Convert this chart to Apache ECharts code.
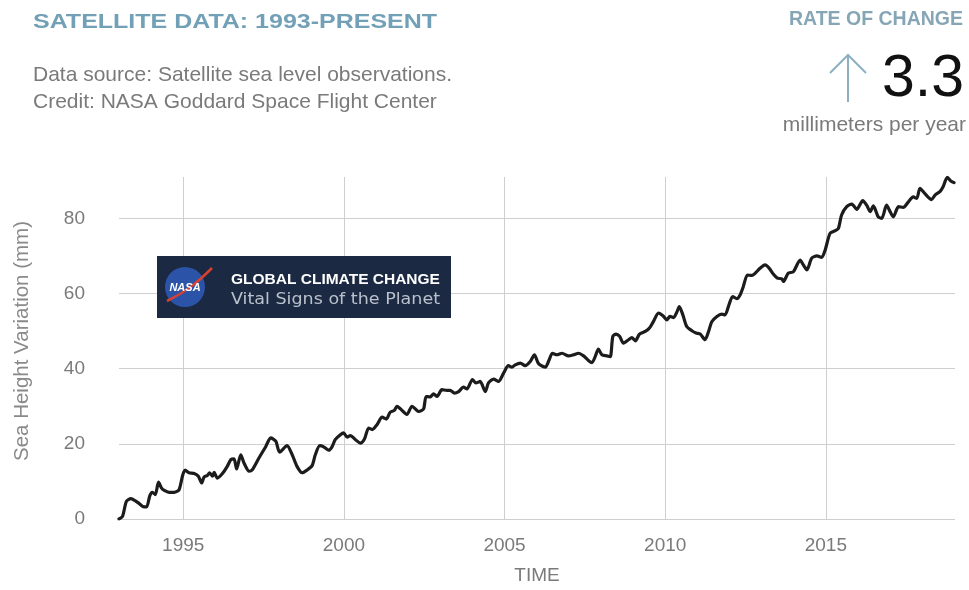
<!DOCTYPE html>
<html>
<head>
<meta charset="utf-8">
<script src="https://cdn.jsdelivr.net/npm/echarts@6/dist/echarts.min.js"></script>
<style>
html,body{margin:0;padding:0;background:#fff;}
#chart{width:969px;height:590px;}
</style>
</head>
<body>
<div id="chart"></div>
<script>
// ---- data ----
const years = [
1993.00,1993.11,1993.23,1993.37,1993.50,1993.63,1993.78,1993.86,1993.96,1994.04,1994.13,1994.23,1994.32,1994.41,1994.56,1994.72,1994.87,1994.98,
1995.06,1995.18,1995.34,1995.47,1995.57,1995.65,1995.75,1995.82,1995.91,1995.96,1996.06,1996.22,1996.37,1996.48,1996.58,1996.66,1996.79,1996.89,
1997.05,1997.15,1997.36,1997.57,1997.72,1997.88,1998.00,1998.23,1998.39,1998.54,1998.70,1998.85,1999.01,1999.11,1999.25,1999.37,1999.53,1999.63,
1999.73,1999.89,1999.99,2000.10,2000.20,2000.36,2000.51,2000.64,2000.77,2000.88,2001.03,2001.19,2001.32,2001.44,2001.57,2001.65,2001.76,2001.96,
2002.12,2002.33,2002.48,2002.56,2002.69,2002.79,2002.90,2003.05,2003.21,2003.31,2003.44,2003.57,2003.72,2003.83,2004.00,2004.11,2004.24,2004.40,
2004.50,2004.66,2004.81,2004.97,2005.12,2005.23,2005.33,2005.49,2005.64,2005.80,2005.93,2006.06,2006.27,2006.39,2006.49,2006.63,2006.79,2006.99,
2007.15,2007.30,2007.46,2007.61,2007.72,2007.82,2007.92,2008.03,2008.19,2008.29,2008.37,2008.47,2008.58,2008.70,2008.86,2008.96,2009.07,2009.20,
2009.38,2009.51,2009.63,2009.79,2009.93,2010.05,2010.15,2010.26,2010.36,2010.44,2010.55,2010.67,2010.83,2010.96,2011.09,2011.24,2011.35,2011.45,
2011.61,2011.76,2011.86,2012.00,2012.10,2012.23,2012.33,2012.43,2012.56,2012.70,2012.80,2012.95,2013.11,2013.24,2013.37,2013.49,2013.63,2013.68,
2013.83,2013.99,2014.20,2014.30,2014.41,2014.56,2014.72,2014.87,2014.98,2015.13,2015.29,2015.39,2015.49,2015.65,2015.81,2015.96,2016.15,2016.27,
2016.38,2016.48,2016.63,2016.74,2016.89,2017.00,2017.10,2017.26,2017.41,2017.57,2017.72,2017.83,2017.93,2018.09,2018.29,2018.40,2018.55,2018.65,
2018.78,2018.88,2018.99
];
const seaHeight = [
0.0,0.7,4.7,5.4,4.9,4.1,3.2,3.2,6.2,7.1,6.5,9.8,8.3,7.6,7.1,7.1,7.8,11.6,
13.0,12.3,12.1,11.4,9.6,11.2,11.6,12.3,11.4,12.4,10.9,12.1,14.0,15.8,16.0,13.3,17.1,14.9,
12.7,13.1,16.3,19.3,21.6,20.7,17.8,19.5,17.1,14.0,12.3,13.0,14.2,17.1,19.5,19.2,18.3,19.2,
21.1,22.4,22.9,21.8,22.2,21.1,20.2,21.3,24.2,23.8,25.1,27.1,26.6,28.4,28.9,30.0,29.3,27.8,
30.0,28.6,29.3,32.6,32.5,33.3,32.6,34.4,34.2,34.2,33.5,33.9,35.1,34.6,37.1,36.2,36.6,33.9,
36.2,37.2,36.6,38.8,40.8,40.4,41.0,41.5,40.8,41.9,43.7,41.3,40.4,42.4,44.1,43.7,44.1,43.4,
43.7,44.1,43.4,42.2,41.6,43.2,45.2,43.7,43.4,43.2,48.6,49.2,48.6,46.8,47.7,48.3,47.4,49.2,
49.9,50.8,52.5,54.8,54.1,53.0,53.9,53.6,55.0,56.5,54.3,51.2,50.1,49.5,49.2,47.7,49.9,52.5,
53.9,54.5,54.3,57.4,59.2,58.6,59.6,61.8,64.9,64.8,65.4,66.7,67.6,66.7,65.1,64.1,63.9,63.2,
65.4,65.8,68.9,67.6,66.3,69.4,70.0,69.6,71.6,76.0,76.7,77.3,80.9,83.1,83.8,82.4,84.7,83.5,
81.8,83.3,80.4,80.0,83.5,81.8,80.4,83.1,82.9,84.4,85.7,85.3,88.0,86.5,85.0,86.2,87.1,88.4,
90.9,90.0,89.5
];
const xTicks = [1995, 2000, 2005, 2010, 2015];
const yTicks = [0, 20, 40, 60, 80];

const points = years.map((y, i) => [y, seaHeight[i]]);

const chart = echarts.init(document.getElementById('chart'), null, {renderer: 'canvas'});
const FONT = '"Liberation Sans", Arial, sans-serif';

chart.setOption({
  animation: false,
  backgroundColor: '#ffffff',
  grid: {left: 119, right: 14, top: 177, bottom: 70, containLabel: false},
  xAxis: {
    type: 'value',
    min: 1993,
    max: 2019.02,
    name: 'TIME',
    nameLocation: 'middle',
    nameGap: 47,
    nameTextStyle: {color: '#7a7a7a', fontSize: 19, fontFamily: FONT},
    axisLine: {show: false},
    axisTick: {show: false, customValues: xTicks},
    axisLabel: {customValues: xTicks, formatter: v => String(v), color: '#7a7a7a', fontSize: 19, fontFamily: FONT, margin: 17},
    splitLine: {show: true, lineStyle: {color: '#cfcfcf', width: 1}}
  },
  yAxis: {
    type: 'value',
    min: 0,
    max: 91,
    name: 'Sea Height Variation (mm)',
    nameLocation: 'middle',
    nameGap: 86,
    nameTextStyle: {color: '#8a8a8a', fontSize: 20.5, fontFamily: FONT, padding: [0, 0, 0, 14]},
    axisLine: {show: false},
    axisTick: {show: false, customValues: yTicks},
    axisLabel: {customValues: yTicks, color: '#7a7a7a', fontSize: 19, fontFamily: FONT, margin: 34},
    splitLine: {show: true, lineStyle: {color: '#cfcfcf', width: 1}}
  },
  series: [{
    type: 'line',
    data: points,
    smooth: 0.25,
    showSymbol: false,
    symbol: 'none',
    lineStyle: {color: '#1c1c1c', width: 3.2, cap: 'round', join: 'round'},
    z: 5
  }],
  graphic: [
    {type: 'text', x: 33, y: 22, scaleX: 1.19, style: {text: 'SATELLITE DATA: 1993-PRESENT', fill: '#72a0b6', font: 'bold 21px ' + FONT, verticalAlign: 'middle'}},
    {type: 'text', x: 33, y: 75, style: {text: 'Data source: Satellite sea level observations.', fill: '#7a7a7a', font: '21px ' + FONT, verticalAlign: 'middle'}},
    {type: 'text', x: 33, y: 102, style: {text: 'Credit: NASA Goddard Space Flight Center', fill: '#7a7a7a', font: '21px ' + FONT, verticalAlign: 'middle'}},
    {type: 'text', x: 963, y: 20, style: {text: 'RATE OF CHANGE', fill: '#86a6b6', font: 'bold 19.5px ' + FONT, align: 'right', verticalAlign: 'middle'}},
    {type: 'text', x: 964, y: 80, style: {text: '3.3', fill: '#111111', font: '59px ' + FONT, align: 'right', verticalAlign: 'middle'}},
    {type: 'text', x: 966, y: 125, style: {text: 'millimeters per year', fill: '#7a7a7a', font: '21px ' + FONT, align: 'right', verticalAlign: 'middle'}},
    {type: 'polyline', shape: {points: [[848, 55], [848, 102]]}, style: {stroke: '#8db0c1', lineWidth: 2, fill: null}},
    {type: 'polyline', shape: {points: [[830, 73], [848, 55], [866, 73]]}, style: {stroke: '#8db0c1', lineWidth: 2, fill: null}},
    // NASA "Global Climate Change" badge
    {type: 'rect', shape: {x: 157, y: 256, width: 294, height: 62}, style: {fill: '#1b2942'}, z: 10},
    {type: 'circle', shape: {cx: 185, cy: 287, r: 20}, style: {fill: '#2b54a8'}, z: 11},
    {type: 'bezierCurve', shape: {x1: 167, y1: 301, x2: 212, y2: 268, cpx1: 186, cpy1: 292, cpx2: 198, cpy2: 282}, style: {stroke: '#d8402f', lineWidth: 2.5, fill: null}, z: 12},
    {type: 'text', x: 185, y: 288, style: {text: 'NASA', fill: '#ffffff', font: 'italic bold 11px ' + FONT, align: 'center', verticalAlign: 'middle'}, z: 13},
    {type: 'text', x: 231, y: 280, style: {text: 'GLOBAL CLIMATE CHANGE', fill: '#ffffff', font: 'bold 15.5px ' + FONT, verticalAlign: 'middle'}, z: 11},
    {type: 'text', x: 231, y: 300, scaleX: 1.13, style: {text: 'Vital Signs of the Planet', fill: '#b9c1cc', font: '15.5px "DejaVu Sans", sans-serif', verticalAlign: 'middle'}, z: 11}
  ]
});
</script>
</body>
</html>
